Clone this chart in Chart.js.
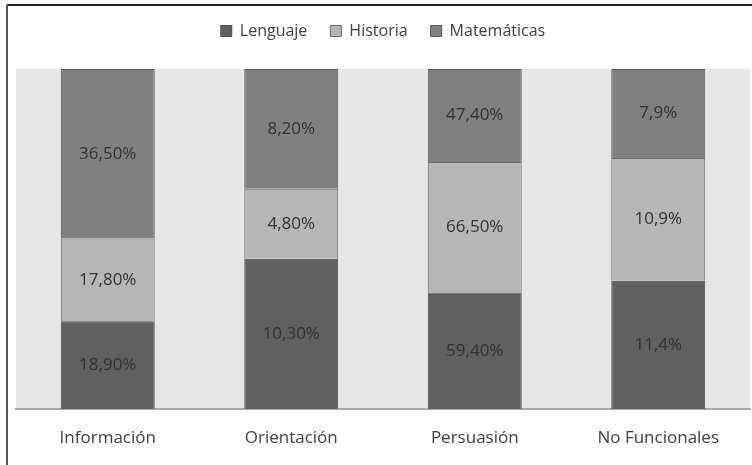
<!DOCTYPE html>
<html>
<head>
<meta charset="utf-8">
<script src="https://cdn.jsdelivr.net/npm/chart.js@4.4.0/dist/chart.umd.min.js"></script>
<style>
    html, body { margin: 0; padding: 0; background: #ffffff; }
    #wrap { width: 752px; height: 465px; }
</style>
</head>
<body>
<div id="wrap"><canvas id="chart" width="752" height="465"></canvas></div>
<script>
// Chart data (percent values as printed on the bars)
const categories = ['Información', 'Orientación', 'Persuasión', 'No Funcionales'];
const lenguaje = [18.9, 10.3, 59.4, 11.4];
const historia = [17.8, 4.8, 66.5, 10.9];
const matematicas = [36.5, 8.2, 47.4, 7.9];
const decimals = [2, 2, 2, 1];   // how each category prints its labels

const FONT = '"Open Sans", sans-serif';
const TEXT = '#404040';

// 100% stacked: each bar is scaled to the sum of its three series
const totals = categories.map((c, i) => lenguaje[i] + historia[i] + matematicas[i]);
function share(arr) {
    return arr.map((v, i) => v / totals[i] * 100);
}
function fmt(v, i) {
    return v.toFixed(decimals[i]).replace('.', ',') + '%';
}

const raw = [lenguaje, historia, matematicas];

// Plot background and outer frame
const frame = {
    id: 'frame',
    beforeDraw(chart) {
        const ctx = chart.ctx;
        const a = chart.chartArea;
        ctx.save();
        ctx.fillStyle = '#e6e6e6';
        ctx.fillRect(a.left, a.top, a.right - a.left, a.bottom - a.top);
        ctx.lineWidth = 2;
        ctx.strokeStyle = '#222222';
        ctx.beginPath();
        ctx.moveTo(7, 5);
        ctx.lineTo(752, 5);
        ctx.stroke();
        ctx.strokeStyle = '#555555';
        ctx.beginPath();
        ctx.moveTo(7, 5);
        ctx.lineTo(7, 465);
        ctx.stroke();
        ctx.restore();
    }
};

// Value labels in the middle of each segment
const valueLabels = {
    id: 'valueLabels',
    afterDatasetsDraw(chart) {
        const ctx = chart.ctx;
        ctx.save();
        ctx.font = '17px ' + FONT;
        ctx.fillStyle = '#333333';
        ctx.textAlign = 'center';
        ctx.textBaseline = 'middle';
        chart.data.datasets.forEach((ds, d) => {
            chart.getDatasetMeta(d).data.forEach((bar, i) => {
                const mid = (bar.y + bar.base) / 2;
                ctx.fillText(fmt(raw[d][i], i), bar.x, mid);
            });
        });
        ctx.restore();
    }
};

// Fix legend height so the plot starts where the original does
const legendHeight = {
    id: 'legendHeight',
    beforeInit(chart) {
        const origFit = chart.legend.fit;
        chart.legend.fit = function() {
            origFit.bind(chart.legend)();
            this.height = 69;
        };
    }
};

new Chart(document.getElementById('chart'), {
    type: 'bar',
    data: {
        labels: categories,
        datasets: [
            {
                label: 'Lenguaje',
                data: share(lenguaje),
                backgroundColor: '#606060',
                borderColor: '#4a4a4a',
                borderWidth: 1
            },
            {
                label: 'Historia',
                data: share(historia),
                backgroundColor: '#b6b6b6',
                borderColor: '#6a6a6a',
                borderWidth: 1
            },
            {
                label: 'Matemáticas',
                data: share(matematicas),
                backgroundColor: '#808080',
                borderColor: '#555555',
                borderWidth: 1
            }
        ]
    },
    options: {
        responsive: false,
        animation: false,
        layout: { padding: { left: 16, right: 2, top: 0, bottom: 0 } },
        datasets: {
            bar: { barPercentage: 0.512, categoryPercentage: 1 }
        },
        plugins: {
            legend: {
                position: 'top',
                labels: {
                    boxWidth: 11,
                    boxHeight: 11,
                    padding: 23,
                    color: TEXT,
                    font: { family: FONT, size: 16 }
                }
            },
            tooltip: { enabled: false }
        },
        scales: {
            x: {
                stacked: true,
                grid: { display: false, drawTicks: false },
                border: { display: true, color: '#a8a8a8', width: 2 },
                ticks: {
                    color: TEXT,
                    padding: 19,
                    font: { family: FONT, size: 17 }
                },
                afterFit(scale) { scale.height = 56; }
            },
            y: {
                stacked: true,
                display: false,
                min: 0,
                max: 100
            }
        }
    },
    plugins: [frame, valueLabels, legendHeight]
});
</script>
</body>
</html>
